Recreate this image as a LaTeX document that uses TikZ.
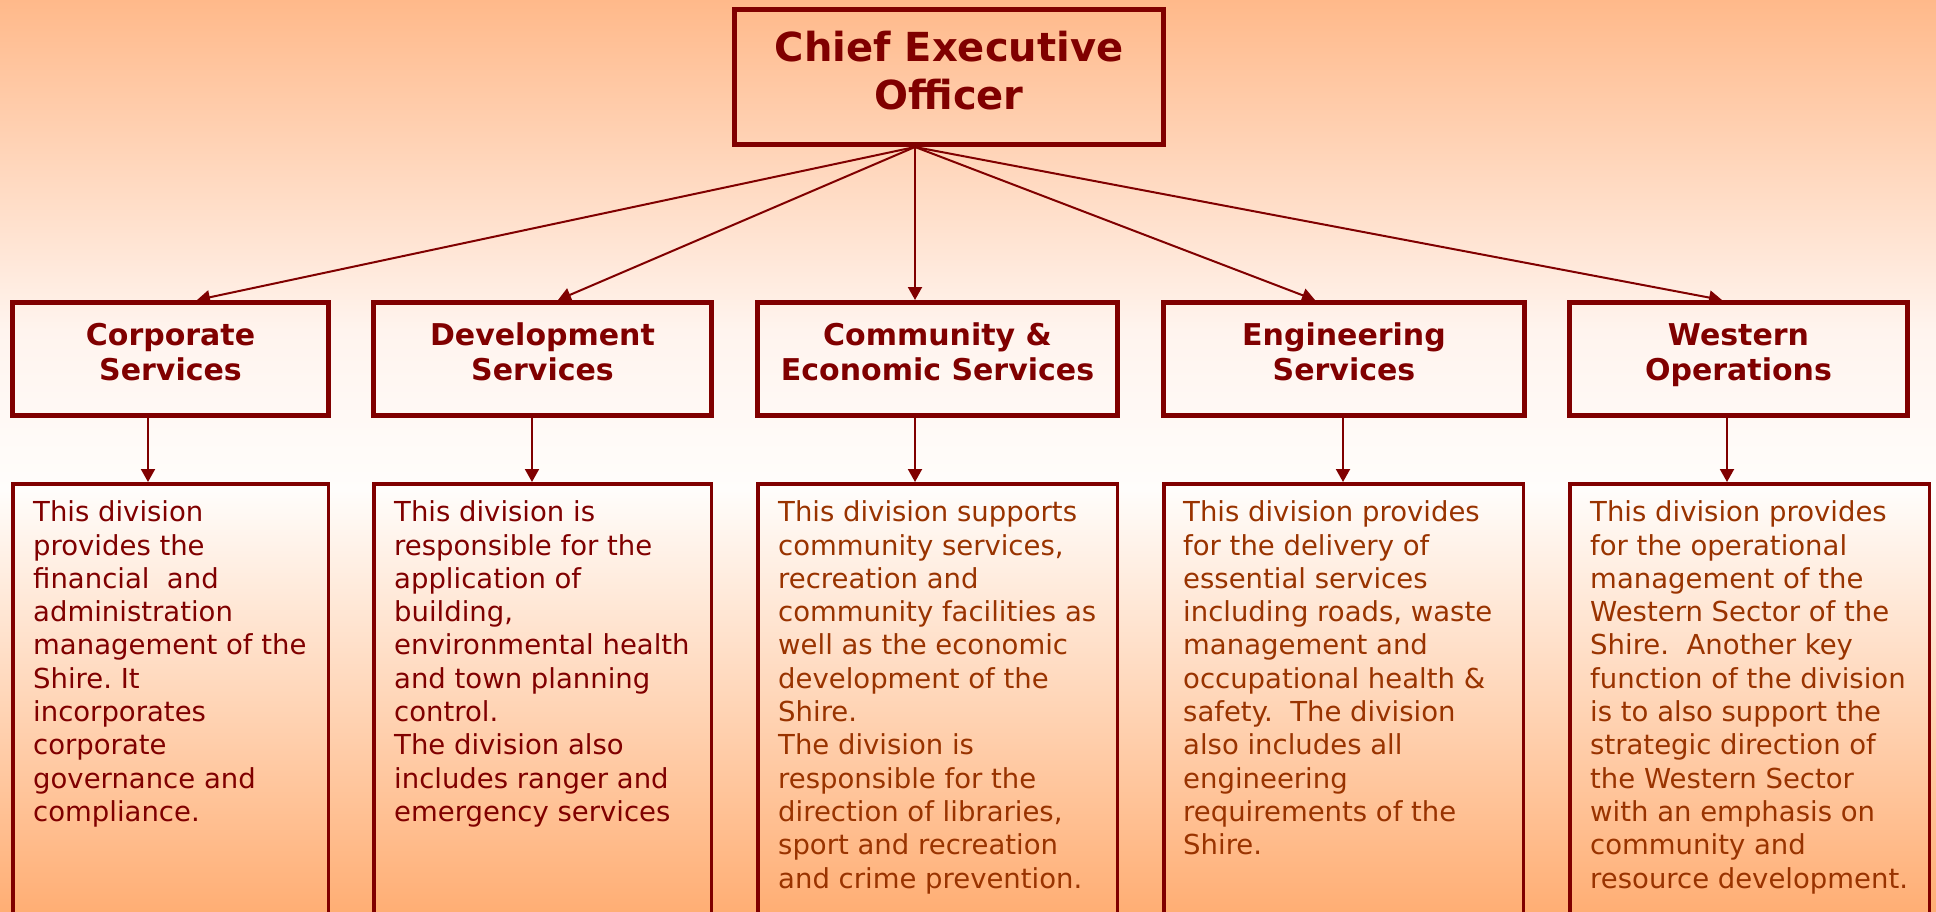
\documentclass[tikz,border=0pt]{standalone}
\usepackage{fontspec}
\setmainfont{DejaVu Sans}
\usetikzlibrary{arrows.meta}
\frenchspacing
\definecolor{cmaroon}{HTML}{800000}
\definecolor{cbrown}{HTML}{993300}
\definecolor{bgtop}{RGB}{255,185,138}
\definecolor{bgmid}{RGB}{255,244,238}
\definecolor{bgwhite}{RGB}{255,253,251}
\definecolor{bgbot}{RGB}{255,174,116}
\tikzset{
  ceobox/.style={draw=cmaroon, line width=5pt, minimum width=429pt, minimum height=135pt, inner sep=0pt},
  divbox/.style={draw=cmaroon, line width=5pt, minimum height=113pt, inner sep=0pt},
  descbox/.style={draw=cmaroon, line width=3.5pt, minimum height=456pt, inner sep=0pt},
  ceotitle/.style={font=\bfseries\fontsize{40}{48}\selectfont, text=cmaroon, align=center, inner sep=0pt, anchor=base},
  divtitle/.style={font=\bfseries\fontsize{30}{35.7}\selectfont, text=cmaroon, align=center, inner sep=0pt, anchor=base},
  desctext/.style={font=\fontsize{27.5}{33.3}\selectfont, align=left, inner sep=0pt, anchor=base west},
  link/.style={draw=cmaroon, line width=2pt, -{Triangle[length=13pt,width=14pt]}}
}
\begin{document}
\begin{tikzpicture}[x=1pt,y=-1pt]
\useasboundingbox (0,0) rectangle (1936,912);
\clip (0,0) rectangle (1936,912);
% background
\shade[top color=bgtop, bottom color=bgmid] (0,0) rectangle (1936,330);
\shade[top color=bgmid, bottom color=bgwhite] (0,329.5) rectangle (1936,490);
\shade[top color=bgwhite, bottom color=bgbot] (0,489.5) rectangle (1936,912);

% CEO
\node[ceobox] (ceo) at (949,77) {};
\node[ceotitle] (ceoT) at (949,110) {Chief Executive\\Officer};

% division boxes
\node[divbox, minimum width=316pt] (corp) at (170.5,359) {};
\node[divbox, minimum width=338pt] (dev) at (542.5,359) {};
\node[divbox, minimum width=360pt] (comm) at (937.5,359) {};
\node[divbox, minimum width=361pt] (eng) at (1344,359) {};
\node[divbox, minimum width=338pt] (west) at (1738.5,359) {};

\node[divtitle] (corpT) at (170.5,380.7) {Corporate\\Services};
\node[divtitle] (devT) at (542.5,380.7) {Development\\Services};
\node[divtitle] (commT) at (937.5,380.7) {Community \&\\Economic Services};
\node[divtitle] (engT) at (1344,380.7) {Engineering\\Services};
\node[divtitle] (westT) at (1738.5,380.7) {Western\\Operations};

% description boxes
\node[descbox, minimum width=315.5pt] (corpD) at (170.5,711.75) {};
\node[descbox, minimum width=337.5pt] (devD) at (542.5,711.75) {};
\node[descbox, minimum width=359.5pt] (commD) at (937.5,711.75) {};
\node[descbox, minimum width=359.5pt] (engD) at (1343.5,711.75) {};
\node[descbox, minimum width=359.5pt] (westD) at (1749.5,711.75) {};

\node[desctext, text=cmaroon] (corpX) at (33,821.4) {This division\\provides the\\financial\ \ and\\administration\\management of the\\Shire. It\\incorporates\\corporate\\governance and\\compliance.};
\node[desctext, text=cmaroon] (devX) at (394,821.4) {This division is\\responsible for the\\application of\\building,\\environmental health\\and town planning\\control.\\The division also\\includes ranger and\\emergency services};
\node[desctext, text=cbrown] (commX) at (778,888) {This division supports\\community services,\\recreation and\\community facilities as\\well as the economic\\development of the\\Shire.\\The division is\\responsible for the\\direction of libraries,\\sport and recreation\\and crime prevention.};
\node[desctext, text=cbrown] (engX) at (1183,854.7) {This division provides\\for the delivery of\\essential services\\including roads, waste\\management and\\occupational health \&\\safety.\ \ The division\\also includes all\\engineering\\requirements of the\\Shire.};
\node[desctext, text=cbrown] (westX) at (1590,888) {This division provides\\for the operational\\management of the\\Western Sector of the\\Shire.\ \ Another key\\function of the division\\is to also support the\\strategic direction of\\the Western Sector\\with an emphasis on\\community and\\resource development.};

% connectors from CEO
\coordinate (src) at ([xshift=-34pt]ceo.south);
\draw[link] (src) -- ([xshift=26.5pt]corp.north);
\draw[link] (src) -- ([xshift=15.5pt]dev.north);
\draw[link] (src) -- ([xshift=-22.5pt]comm.north);
\draw[link] (src) -- ([xshift=-29pt]eng.north);
\draw[link] (src) -- ([xshift=-16.5pt]west.north);

% vertical connectors
\draw[link] ([xshift=-22.5pt]corp.south) -- ([xshift=-22.5pt]corpD.north);
\draw[link] ([xshift=-10.5pt]dev.south) -- ([xshift=-10.5pt]devD.north);
\draw[link] ([xshift=-22.5pt]comm.south) -- ([xshift=-22.5pt]commD.north);
\draw[link] ([xshift=-1pt]eng.south) -- ([xshift=-0.5pt]engD.north);
\draw[link] ([xshift=-11.5pt]west.south) -- ([xshift=-22.5pt]westD.north);
\end{tikzpicture}
\end{document}
